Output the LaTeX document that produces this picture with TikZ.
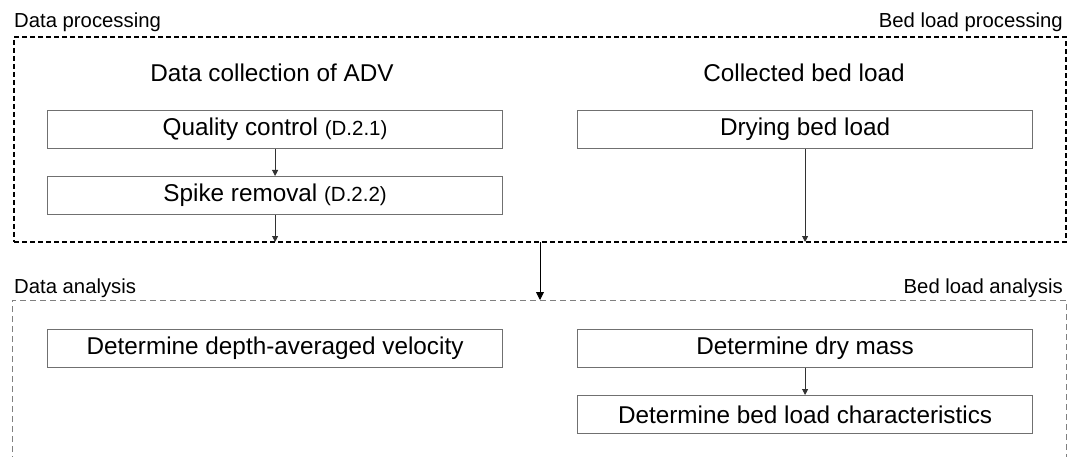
\documentclass[tikz,border=0pt]{standalone}
\usepackage{fontspec}
\setmainfont{Liberation Sans}
\usetikzlibrary{arrows.meta}
\definecolor{boxgray}{RGB}{112,112,112}
\definecolor{arrowgray}{RGB}{50,50,50}
\definecolor{framegray}{RGB}{128,128,128}
\begin{document}
\begin{tikzpicture}[x=1pt,y=-1pt,
  procbox/.style={draw=boxgray,line width=1.2pt,minimum width=455pt,minimum height=38pt,
    inner sep=0pt,anchor=north west,font=\fontsize{24.3}{28}\selectfont},
  heading/.style={anchor=base,inner sep=0pt,font=\fontsize{24.3}{28}\selectfont},
  framelabel/.style={inner sep=0pt,font=\fontsize{20.3}{23}\selectfont},
  procframe/.style={draw=black,line width=2pt,dash pattern=on 5pt off 3pt,
    minimum width=1052pt,minimum height=205pt,inner sep=0pt,outer sep=0pt,anchor=north west},
  anaframe/.style={draw=framegray,line width=1pt,dash pattern=on 6pt off 4pt},
  flow/.style={draw=arrowgray,line width=0.9pt,-{Triangle[length=6pt,width=6pt]}},
  mainflow/.style={draw=black,line width=0.9pt,-{Triangle[length=8pt,width=8pt]}}]
\useasboundingbox (0,0) rectangle (1070,457);

% processing frame
\node[procframe] (pframe) at (14,37) {};
\node[framelabel,anchor=base west] (lblDP) at (14,28) {Data processing};
\node[framelabel,anchor=base east] (lblBP) at (1063,28) {Bed load processing};

% headings
\node[heading] (adv) at (272,82) {Data collection of ADV};
\node[heading] (cbl) at (804,82) {Collected bed load};

% processing boxes
\node[procbox] (qc) at (47,110) {Quality control {\fontsize{20.5}{24}\selectfont(D.2.1)}};
\node[procbox] (sr) at (47,176) {Spike removal {\fontsize{20.5}{24}\selectfont(D.2.2)}};
\node[procbox] (dry) at (577,110) {Drying bed load};

% analysis frame (open at the bottom)
\coordinate (aframe) at (539.5,300);
\draw[anaframe] (12,462) -- (12,300) -- (1066,300) -- (1066,462);
\node[framelabel,anchor=base west] (lblDA) at (14,293) {Data analysis};
\node[framelabel,anchor=base east] (lblBA) at (1063,293) {Bed load analysis};

% analysis boxes
\node[procbox] (dav) at (47,329) {Determine depth-averaged velocity};
\node[procbox] (dm) at (577,329) {Determine dry mass};
\node[procbox] (ch) at (577,395) {Determine bed load characteristics};

% connectors
\draw[flow] (qc.south) -- (sr.north);
\draw[flow] (sr.south) -- (sr.south |- pframe.south);
\draw[flow] (dry.south) -- (dry.south |- pframe.south);
\draw[mainflow] (pframe.south) -- (pframe.south |- aframe);
\draw[flow] (dm.south) -- (ch.north);
\end{tikzpicture}
\end{document}
